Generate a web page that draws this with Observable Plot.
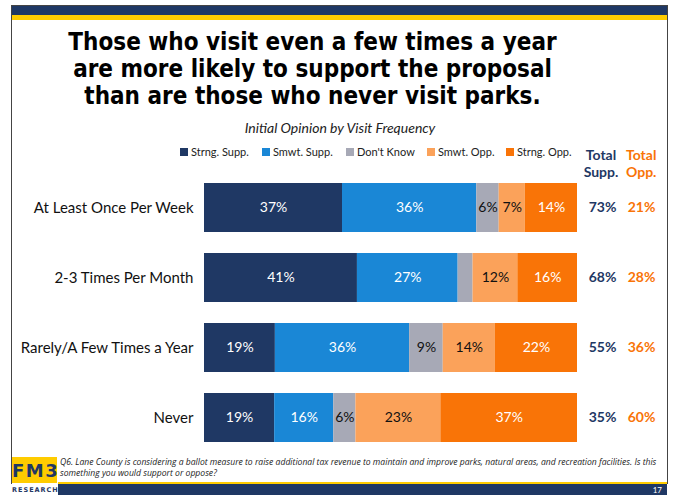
<!DOCTYPE html>
<html>
<head>
<meta charset="utf-8">
<script src="https://cdn.jsdelivr.net/npm/d3@7"></script>
<script src="https://cdn.jsdelivr.net/npm/@observablehq/plot@0.6"></script>
<style>
  html, body { margin: 0; padding: 0; background: #fff; }
  #page { position: relative; width: 673px; height: 495px; overflow: hidden; background: #fff; font-family: Lato, "Open Sans", sans-serif; }
  .abs { position: absolute; }
  #title { left: 40px; width: 545px; top: 29px; text-align: center; font-family: "DejaVu Sans Condensed", "DejaVu Sans", Verdana, sans-serif; font-stretch: condensed; font-weight: bold; font-size: 24px; line-height: 27px; color: #000; }
  #subtitle { left: 170px; width: 340px; top: 119px; text-align: center; font-style: italic; font-size: 14px; color: #222; }
  #legend { left: 180px; top: 145px; font-size: 11px; color: #222; }
  .lg { position: absolute; white-space: nowrap; display: flex; align-items: center; }
  .sw { display: inline-block; width: 8px; height: 8px; margin-right: 3px; }
  .th { font-weight: bold; font-size: 14px; line-height: 15px; height: 15px; white-space: nowrap; }
  #foot { left: 60px; top: 457px; width: 608px; font-style: italic; font-size: 8.6px; line-height: 11px; color: #222; font-family: "Open Sans", Lato, sans-serif; }
</style>
</head>
<body>
<div id="page">
  <div class="abs" style="left:11px;top:5px;width:655px;height:478px;border:1px solid #444;border-bottom:none;"></div>
  <div class="abs" style="left:12px;top:6px;width:655px;height:9px;background:#1F3864;"></div>
  <div class="abs" style="left:12px;top:15px;width:655px;height:5px;background:#FFCC00;"></div>
  <div id="title" class="abs"></div>
  <div id="subtitle" class="abs"></div>
  <div id="legend" class="abs"></div>
  <div id="headers"></div>
  <div id="chart" class="abs" style="left:0;top:160px;"></div>
  <div class="abs" style="left:12px;top:457px;width:45px;height:26px;background:#FFCC00;"></div>
  <div class="abs" style="left:12px;top:457px;width:45px;height:26px;text-align:center;font-family:'DejaVu Sans',sans-serif;font-weight:bold;font-size:18px;line-height:27px;color:#1F3864;letter-spacing:1.5px;">FM3</div>
  <div class="abs" style="left:12px;top:485px;width:46px;font-family:'DejaVu Sans',sans-serif;font-weight:bold;font-size:6.5px;line-height:10px;color:#1F3864;letter-spacing:1px;white-space:nowrap;">RESEARCH</div>
  <div class="abs" style="left:58px;top:482px;width:609px;height:2px;background:#FFCC00;"></div>
  <div class="abs" style="left:58px;top:484px;width:609px;height:11px;background:#1F3864;"></div>
  <div class="abs" style="left:640px;top:485px;width:22px;text-align:right;color:#fff;font-size:8px;line-height:10px;">17</div>
  <div id="foot" class="abs"></div>
</div>
<script>
const titleLines = ["Those who visit even a few times a year", "are more likely to support the proposal", "than are those who never visit parks."];
const subtitle = "Initial Opinion by Visit Frequency";
const footnote = "Q6. Lane County is considering a ballot measure to raise additional tax revenue to maintain and improve parks, natural areas, and recreation facilities. Is this something you would support or oppose?";
const totalHeaders = [["Total", "Supp."], ["Total", "Opp."]];

const categories = ["At Least Once Per Week", "2-3 Times Per Month", "Rarely/A Few Times a Year", "Never"];
const responses = ["Strng. Supp.", "Smwt. Supp.", "Don't Know", "Smwt. Opp.", "Strng. Opp."];
const colors = ["#1F3864", "#1A87D6", "#A7A9B6", "#FBA25A", "#F97407"];
const labelColors = ["#fff", "#fff", "#111", "#111", "#fff"];
const strngSupp = [37, 41, 19, 19];
const smwtSupp = [36, 27, 36, 16];
const dontKnow = [6, 4, 9, 6];
const smwtOpp = [7, 12, 14, 23];
const strngOpp = [14, 16, 22, 37];
const totalSupp = [73, 68, 55, 35];
const totalOpp = [21, 28, 36, 60];

document.getElementById("title").innerHTML = titleLines.join("<br>");
document.getElementById("subtitle").textContent = subtitle;
document.getElementById("foot").textContent = footnote;

const hdrStyle = [
  {left: 582, width: 38, align: "center", color: "#1F3864"},
  {left: 626, width: 36, align: "left", color: "#F97407"}
];
const hd = document.getElementById("headers");
totalHeaders.forEach((lines, i) => {
  lines.forEach((t, j) => {
    const d = document.createElement("div");
    d.className = "abs th";
    const s = hdrStyle[i];
    d.style.cssText = `left:${s.left}px;width:${s.width}px;top:${147 + j * 17}px;text-align:${s.align};color:${s.color};`;
    d.textContent = t;
    hd.appendChild(d);
  });
});

const legendX = [0, 82, 166, 247, 326];
const lg = document.getElementById("legend");
responses.forEach((r, i) => {
  const d = document.createElement("div");
  d.className = "lg";
  d.style.left = legendX[i] + "px";
  d.innerHTML = `<span class="sw" style="background:${colors[i]}"></span>${r}`;
  lg.appendChild(d);
});

const series = [strngSupp, smwtSupp, dontKnow, smwtOpp, strngOpp];
const data = [];
categories.forEach((c, ci) => {
  responses.forEach((r, ri) => {
    data.push({cat: c, resp: r, value: series[ri][ci], ri});
  });
});
const totals = categories.map((c, i) => ({cat: c, supp: totalSupp[i], opp: totalOpp[i]}));

const stackOpts = {x: "value", y: "cat", z: "resp", offset: "normalize", order: responses};

const chart = Plot.plot({
  width: 673,
  height: 305,
  marginLeft: 204,
  marginRight: 96,
  marginTop: 0,
  marginBottom: 0,
  style: {fontFamily: "Lato, 'Open Sans', sans-serif", background: "transparent"},
  x: {domain: [0, 1], axis: null},
  y: {domain: categories, padding: 0.296, label: null, axis: null},
  color: {domain: responses, range: colors},
  marks: [
    Plot.axisY({tickSize: 0, tickPadding: 11, fontSize: 15, fill: "#111", label: null}),
    Plot.barX(data, Plot.stackX({...stackOpts, fill: "resp"})),
    ...responses.map((r, ri) =>
      Plot.text(data, Plot.stackX({...stackOpts,
        text: d => (d.ri === ri && d.value >= 5) ? d.value + "%" : "",
        fill: labelColors[ri], fontSize: 14}))
    ),
    Plot.text(totals, {y: "cat", frameAnchor: "right", textAnchor: "middle", dx: 25, text: d => d.supp + "%", fill: "#1F3864", fontWeight: "bold", fontSize: 14}),
    Plot.text(totals, {y: "cat", frameAnchor: "right", textAnchor: "middle", dx: 64, text: d => d.opp + "%", fill: "#F97407", fontWeight: "bold", fontSize: 14})
  ]
});
document.getElementById("chart").appendChild(chart);
</script>
</body>
</html>
